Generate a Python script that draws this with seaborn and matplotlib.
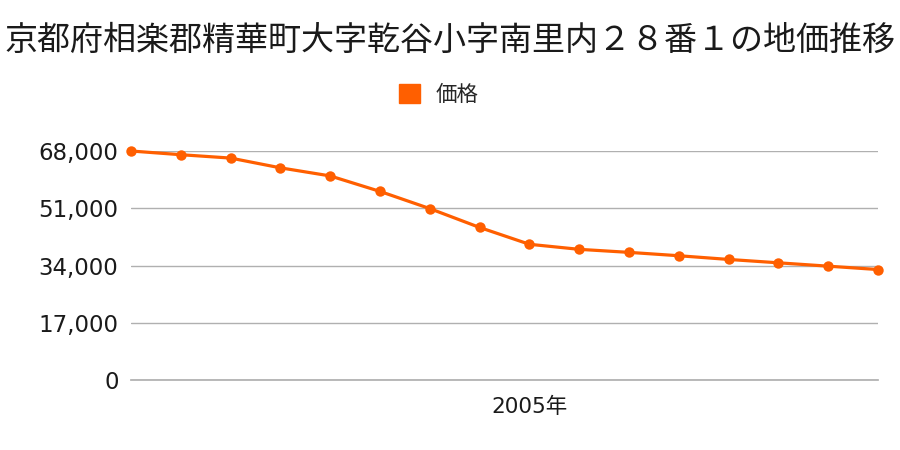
import matplotlib
matplotlib.use("Agg")
import matplotlib.pyplot as plt
import seaborn as sns
import pandas as pd
from matplotlib.patches import Patch

title = "京都府相楽郡精華町大字乾谷小字南里内２８番１の地価推移"
series_name = "価格"
years = list(range(1997, 2013))
prices = [68000, 66900, 65900, 63000, 60600, 56000, 50900, 45300,
          40300, 38800, 37900, 36900, 35800, 34800, 33800, 32800]
yticks = [0, 17000, 34000, 51000, 68000]
xtick_years = [2005]
xtick_labels = ["2005年"]

sns.set_theme(style="white")
plt.rcParams['font.family'] = ['Noto Sans CJK JP', 'DejaVu Sans']

color = "#ff5f00"
tick_family = ['DejaVu Sans', 'Noto Sans CJK JP']
df = pd.DataFrame({"year": years, "price": prices})

fig = plt.figure(figsize=(9, 4.5), dpi=100)
ax = fig.add_axes([131/900, 1-380/450, (878-131)/900, (380-151)/450])

sns.lineplot(data=df, x="year", y="price", ax=ax, color=color, marker="o",
             markersize=7.5, markeredgewidth=0, linewidth=2.3, clip_on=False,
             zorder=3, legend=False)

ax.set_xlim(years[0], years[-1])
ax.set_ylim(0, 68000)
ax.set_yticks(yticks)
ax.set_yticklabels([f"{v:,}" for v in yticks], fontsize=16.5, color="#1a1a1a",
                   family=tick_family)
ax.set_xticks(xtick_years)
ax.set_xticklabels(xtick_labels, fontsize=15.5, color="#1a1a1a", family=tick_family)
ax.tick_params(axis="y", length=0, pad=9)
ax.tick_params(axis="x", length=0, pad=12)
ax.grid(axis="y", color="#b0b0b0", linewidth=1)
ax.set_axisbelow(True)
for s in ["top", "right", "left"]:
    ax.spines[s].set_visible(False)
ax.spines["bottom"].set_color("#b0b0b0")
ax.set_xlabel("")
ax.set_ylabel("")

fig.text(0.5, 1-40/450, title, ha="center", va="center", fontsize=23.8, color="#1a1a1a")
fig.legend(handles=[Patch(facecolor=color, edgecolor=color, label=series_name)],
           loc="center", bbox_to_anchor=(0.487, 1-95/450), frameon=False,
           fontsize=15.5, handlelength=1.0, handleheight=1.0, handletextpad=0.7)

fig.savefig("out.png", dpi=100)
